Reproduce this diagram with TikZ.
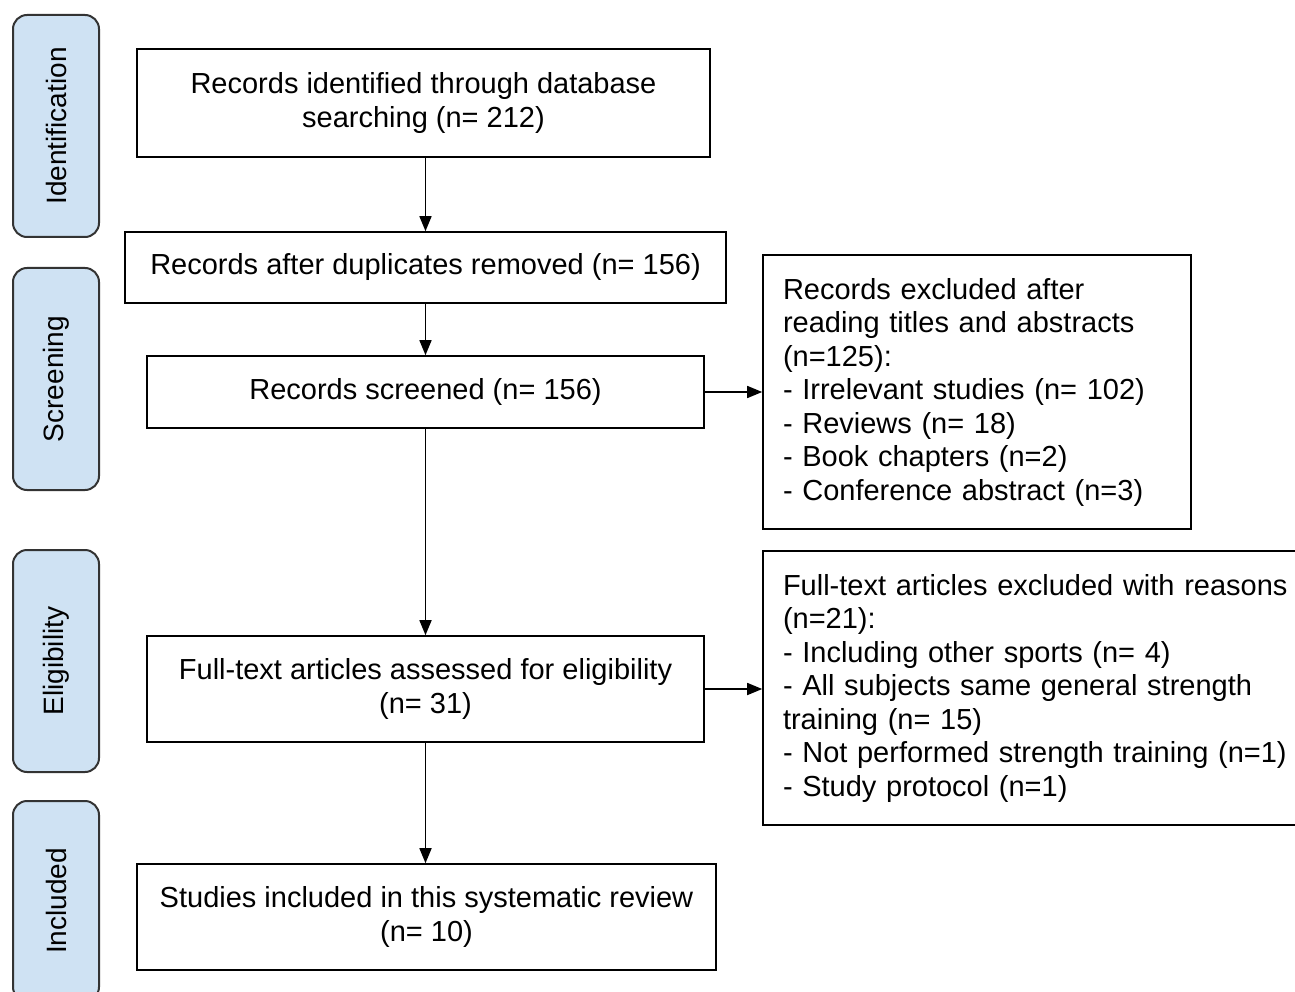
\documentclass[tikz,border=0pt]{standalone}
\usepackage{fontspec}
\setmainfont{Liberation Sans}
\usetikzlibrary{arrows.meta,calc}
\definecolor{stagefill}{HTML}{CFE2F3}
\definecolor{stagedraw}{HTML}{333333}
\begin{document}
\begin{tikzpicture}[x=1pt,y=-1pt,
  every node/.style={font=\fontsize{29}{33.5}\selectfont},
  mainbox/.style={draw=black,line width=1.6pt,rectangle,align=center,inner sep=0pt},
  sidebox/.style={draw,rectangle,align=left,line width=1.6pt,inner xsep=20pt,inner ysep=0pt},
  stagebox/.style={draw=stagedraw,fill=stagefill,line width=2pt,rounded corners=14pt,minimum width=86pt,inner sep=0pt},
  stagetext/.style={rotate=90,font=\fontsize{28}{32}\selectfont},
  arr/.style={line width=1.6pt,-{Triangle[length=15pt,width=12pt]}}]
\useasboundingbox (0,0) rectangle (1295,992);
% stages
\node[stagebox,minimum height=222pt] (sid) at (56,126) {};
\node[stagetext] (tid) at (sid.center) {Identification};
\node[stagebox,minimum height=222pt] (ssc) at (56,379) {};
\node[stagetext] (tsc) at (ssc.center) {Screening};
\node[stagebox,minimum height=222pt] (sel) at (56,661) {};
\node[stagetext] (tel) at (sel.center) {Eligibility};
\node[stagebox,minimum height=200pt] (sin) at (56,901) {};
\node[stagetext] (tin) at (sin.center) {Included};
% main boxes
\node[mainbox,minimum width=573pt,minimum height=108pt] (b1) at (423.5,103) {Records identified through database\\searching (n= 212)};
\node[mainbox,minimum width=601pt,minimum height=71pt] (b2) at (425.5,267.5) {Records after duplicates removed (n= 156)};
\node[mainbox,minimum width=557pt,minimum height=72pt] (b3) at (425.5,392) {Records screened (n= 156)};
\node[mainbox,minimum width=557pt,minimum height=106pt] (b4) at (425.5,689) {Full-text articles assessed for eligibility\\(n= 31)};
\node[mainbox,minimum width=579pt,minimum height=106pt] (b5) at (426.5,917) {Studies included in this systematic review\\(n= 10)};
% side boxes
\node[sidebox,text width=388pt,minimum height=274pt] (r1) at (977,392) {Records excluded after\\reading titles and abstracts\\(n=125):\\- Irrelevant studies (n= 102)\\- Reviews (n= 18)\\- Book chapters (n=2)\\- Conference abstract (n=3)};
\node[sidebox,text width=560pt,minimum height=274pt] (r2) at (1063,688) {Full-text articles excluded with reasons\\(n=21):\\- Including other sports (n= 4)\\- All subjects same general strength\\training (n= 15)\\- Not performed strength training (n=1)\\- Study protocol (n=1)};
% arrows
\draw[arr] (b1.south -| b3.center) -- (b2.north -| b3.center);
\draw[arr] (b2.south -| b3.center) -- (b3.north);
\draw[arr] (b3.south) -- (b4.north);
\draw[arr] (b4.south) -- (b5.north -| b4.south);
\draw[arr] (b3.east) -- (r1.west);
\draw[arr] (b4.east) -- (b4.east -| r2.west);
\end{tikzpicture}
\end{document}
